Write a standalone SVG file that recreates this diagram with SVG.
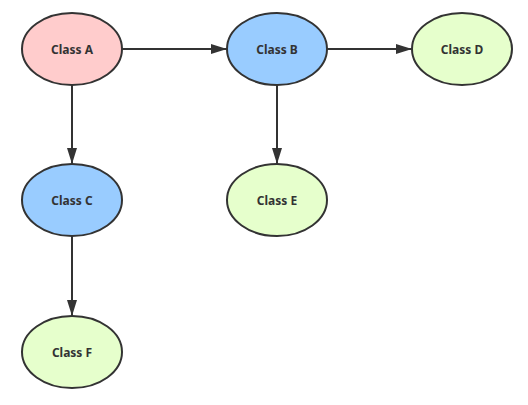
<svg xmlns="http://www.w3.org/2000/svg" width="528" height="405" viewBox="0 0 528 405">
<style>
.n ellipse{stroke:#333;stroke-width:2}
.n text{font-family:"Noto Sans","Liberation Sans",sans-serif;font-weight:bold;font-size:12px;fill:#333;text-anchor:middle;dominant-baseline:central}
.pink{fill:#ffcccc}.blue{fill:#99ccff}.green{fill:#e6ffcc}
#edges line{stroke:#333;stroke-width:2;marker-end:url(#ah)}
</style>
<defs>
<marker id="ah" viewBox="0 0 16 10" refX="16" refY="5" markerWidth="16" markerHeight="10" markerUnits="userSpaceOnUse" orient="auto">
<path d="M0,0 L16,5 L0,10 Z" fill="#333"/>
</marker>
</defs>
<rect width="528" height="405" fill="#fff"/>
<g id="edges">
<line x1="122" y1="49" x2="227" y2="49"/>
<line x1="327" y1="49" x2="412" y2="49"/>
<line x1="72" y1="85" x2="72" y2="164"/>
<line x1="277" y1="85" x2="277" y2="164"/>
<line x1="72" y1="236" x2="72" y2="316"/>
</g>
<g id="classA" class="n"><ellipse class="pink" cx="72" cy="49" rx="50" ry="36"/><text x="72" y="49">Class A</text></g>
<g id="classB" class="n"><ellipse class="blue" cx="277" cy="49" rx="50" ry="36"/><text x="277" y="49">Class B</text></g>
<g id="classD" class="n"><ellipse class="green" cx="462" cy="49" rx="50" ry="36"/><text x="462" y="49">Class D</text></g>
<g id="classC" class="n"><ellipse class="blue" cx="72" cy="200" rx="50" ry="36"/><text x="72" y="200">Class C</text></g>
<g id="classE" class="n"><ellipse class="green" cx="277" cy="200" rx="50" ry="36"/><text x="277" y="200">Class E</text></g>
<g id="classF" class="n"><ellipse class="green" cx="72" cy="352" rx="50" ry="36"/><text x="72" y="352">Class F</text></g>
</svg>
